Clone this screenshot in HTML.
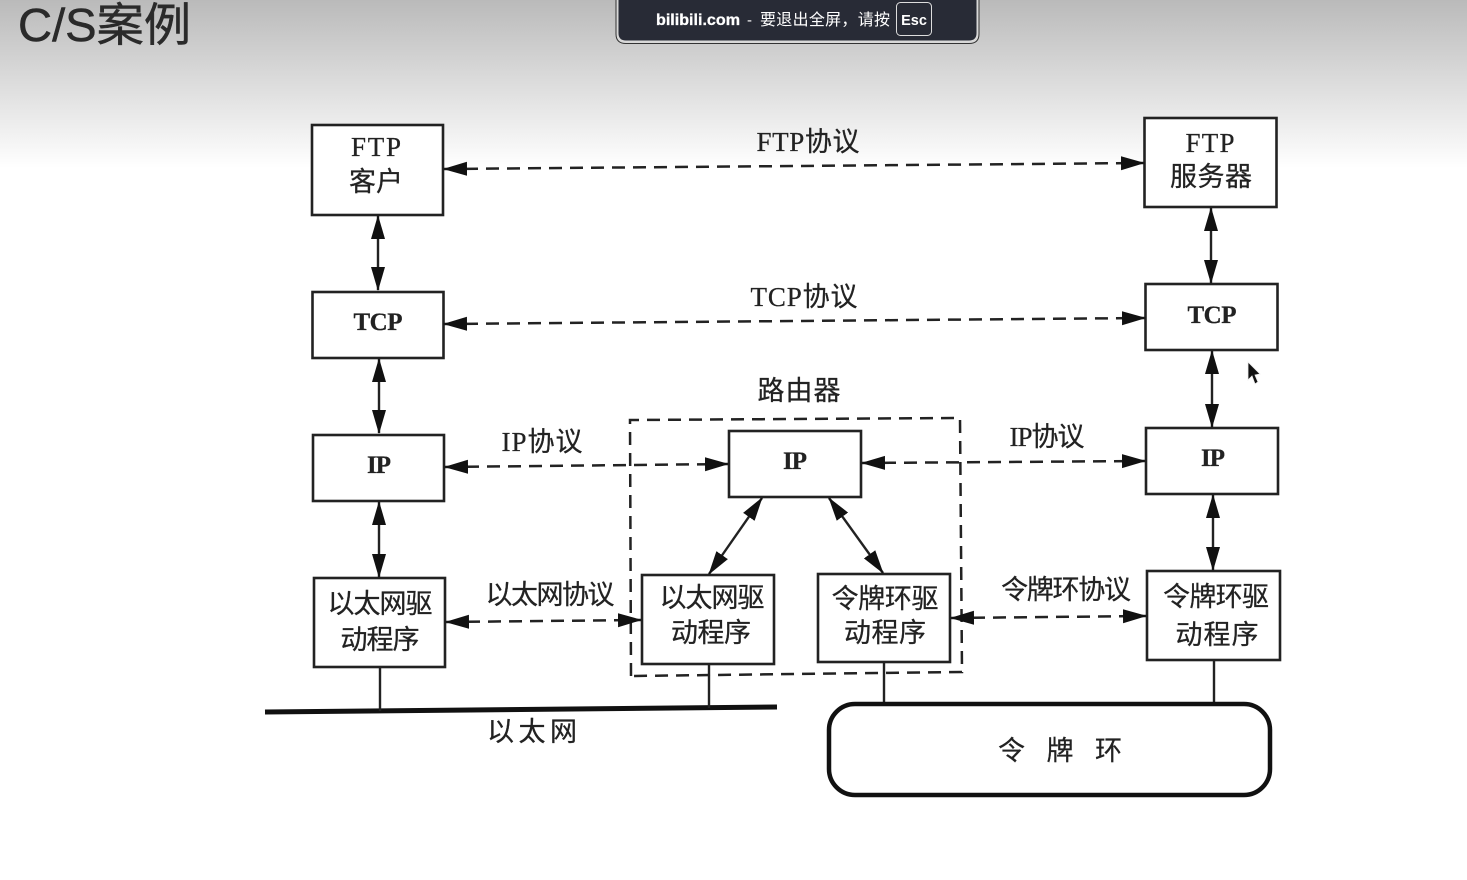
<!DOCTYPE html>
<html lang="zh"><head><meta charset="utf-8"><title>C/S案例</title>
<style>
html,body{margin:0;padding:0;width:1467px;height:880px;overflow:hidden;background:#fff}
svg{display:block;position:absolute;left:0;top:0}
.t{font-family:"Liberation Serif","Noto Sans CJK SC",serif;fill:#222;text-anchor:middle;font-size:27px;stroke:#222;stroke-width:.25px}
.b{font-weight:bold;font-size:25px}
.box{fill:#fff;stroke:#222;stroke-width:2.6}
.l{stroke:#222;stroke-width:2.4;fill:none}
.d{stroke:#222;stroke-width:2.5;fill:none;stroke-dasharray:13 8}
.a{fill:#111}
</style></head><body>
<svg width="1467" height="880" viewBox="0 0 1467 880" xmlns="http://www.w3.org/2000/svg">
<defs>
<linearGradient id="g" x1="0" y1="0" x2="0" y2="1"><stop offset="0" stop-color="#bababa"/><stop offset="1" stop-color="#fff"/></linearGradient>
<marker id="m" viewBox="0 0 24 16" refX="23" refY="8" markerWidth="24" markerHeight="16" markerUnits="userSpaceOnUse" orient="auto-start-reverse"><path class="a" d="M0 1L24 8L0 15Z"/></marker>
</defs>
<rect width="1467" height="168" fill="url(#g)"/>
<text x="18" y="41" style="font-family:'Liberation Sans','Noto Sans CJK SC',sans-serif;font-size:46px;fill:#2a2a2a;stroke:#2a2a2a;stroke-width:.5px" textLength="173" lengthAdjust="spacingAndGlyphs">C/S案例</text>

<path d="M617 -4V33Q617 42 626 42H969Q978 42 978 33V-4Z" fill="#282b36" stroke="#d8d8d8" stroke-width="3"/>
<path d="M616 -4V34Q616 43.500 626 43.500H969Q979 43.500 979 34V-4" fill="none" stroke="#333" stroke-width="1"/>
<text x="656" y="25" style="font-family:'Liberation Sans',sans-serif;font-weight:bold;font-size:15.500px;fill:#fff;stroke:#fff;stroke-width:.3px" textLength="84" lengthAdjust="spacingAndGlyphs">bilibili.com</text>
<text x="747" y="25" style="font-family:'Liberation Sans',sans-serif;font-size:15px;fill:#fff">-</text>
<text x="760" y="25" style="font-family:'Liberation Sans','Noto Sans CJK SC',sans-serif;font-size:16px;fill:#fff" textLength="130">要退出全屏，请按</text>
<rect x="896.500" y="2.500" width="35" height="33" rx="4" fill="none" stroke="#ddd" stroke-width="1"/>
<text x="914" y="25" style="font-family:'Liberation Sans',sans-serif;font-weight:bold;font-size:14.500px;fill:#fff;text-anchor:middle">Esc</text>

<!-- router dashed box -->
<path class="d" d="M631 676L630 420L960 418L962 672Z"/>

<!-- boxes -->
<rect class="box" x="312" y="125" width="131" height="90"/>
<rect class="box" x="312.500" y="292" width="131" height="66"/>
<rect class="box" x="313" y="435" width="131" height="66"/>
<rect class="box" x="314" y="578" width="131" height="89"/>
<rect class="box" x="1144.500" y="118" width="132" height="89"/>
<rect class="box" x="1145.500" y="284" width="132" height="66"/>
<rect class="box" x="1146" y="428" width="132" height="66"/>
<rect class="box" x="1147" y="571" width="133" height="89"/>
<rect class="box" x="729" y="431" width="132" height="66"/>
<rect class="box" x="642" y="575" width="132" height="89"/>
<rect class="box" x="818" y="574" width="132" height="88"/>

<!-- vertical arrows -->
<path class="l" d="M378 216V290" marker-start="url(#m)" marker-end="url(#m)"/>
<path class="l" d="M379 359V433" marker-start="url(#m)" marker-end="url(#m)"/>
<path class="l" d="M379 502V577" marker-start="url(#m)" marker-end="url(#m)"/>
<path class="l" d="M1211 208V283" marker-start="url(#m)" marker-end="url(#m)"/>
<path class="l" d="M1212 351V427" marker-start="url(#m)" marker-end="url(#m)"/>
<path class="l" d="M1213 495V570" marker-start="url(#m)" marker-end="url(#m)"/>
<path class="l" d="M762 498L709 574" marker-start="url(#m)" marker-end="url(#m)"/>
<path class="l" d="M829 498L883 573" marker-start="url(#m)" marker-end="url(#m)"/>

<!-- dashed arrows -->
<path class="d" d="M444 169L1144 163" marker-start="url(#m)" marker-end="url(#m)"/>
<path class="d" d="M444 324L1145 318" marker-start="url(#m)" marker-end="url(#m)"/>
<path class="d" d="M445 467L728 464" marker-start="url(#m)" marker-end="url(#m)"/>
<path class="d" d="M862 463L1145 461" marker-start="url(#m)" marker-end="url(#m)"/>
<path class="d" d="M446 622L641 620" marker-start="url(#m)" marker-end="url(#m)"/>
<path class="d" d="M951 618L1146 616" marker-start="url(#m)" marker-end="url(#m)"/>

<!-- networks -->
<path d="M265 712L777 707" stroke="#111" stroke-width="5" fill="none"/>
<path class="l" d="M380 668V711M709 665V708M884 663V704M1214 661V702"/>
<rect x="829" y="704" width="441" height="91" rx="26" fill="#fff" stroke="#111" stroke-width="4.500"/>

<!-- labels -->
<text class="t" x="376" y="156" textLength="50">FTP</text>
<text class="t" x="376" y="191" textLength="54">客户</text>
<text class="t b" x="378" y="330" textLength="49">TCP</text>
<text class="t b" x="379" y="473" textLength="24">IP</text>
<text class="t" x="380" y="613" textLength="105">以太网驱</text>
<text class="t" x="380" y="649" textLength="79">动程序</text>
<text class="t" x="1210" y="152" textLength="49">FTP</text>
<text class="t" x="1211" y="186" textLength="82">服务器</text>
<text class="t b" x="1212" y="323" textLength="49">TCP</text>
<text class="t b" x="1213" y="466" textLength="24">IP</text>
<text class="t" x="1216" y="606" textLength="106">令牌环驱</text>
<text class="t" x="1217" y="644" textLength="83">动程序</text>
<text class="t b" x="795" y="469" textLength="24">IP</text>
<text class="t" x="712" y="607" textLength="105">以太网驱</text>
<text class="t" x="711" y="642" textLength="80">动程序</text>
<text class="t" x="885" y="608" textLength="107">令牌环驱</text>
<text class="t" x="885" y="642" textLength="82">动程序</text>
<text class="t" x="808" y="151" textLength="103">FTP协议</text>
<text class="t" x="804" y="306" textLength="107">TCP协议</text>
<text class="t" x="799" y="400" textLength="83">路由器</text>
<text class="t" x="542" y="451" textLength="81">IP协议</text>
<text class="t" x="1047" y="446" textLength="75">IP协议</text>
<text class="t" x="550" y="604" textLength="129">以太网协议</text>
<text class="t" x="1066" y="599" textLength="130">令牌环协议</text>
<text class="t" x="532" y="741" textLength="90">以太网</text>
<text class="t" x="1060" y="760" textLength="124">令 牌 环</text>

<!-- cursor -->
<path d="M1248 362V380L1252 376L1255 384L1258 382L1255 375L1260 374Z" fill="#111" stroke="#eee" stroke-width="0.800"/>
</svg>
</body></html>
